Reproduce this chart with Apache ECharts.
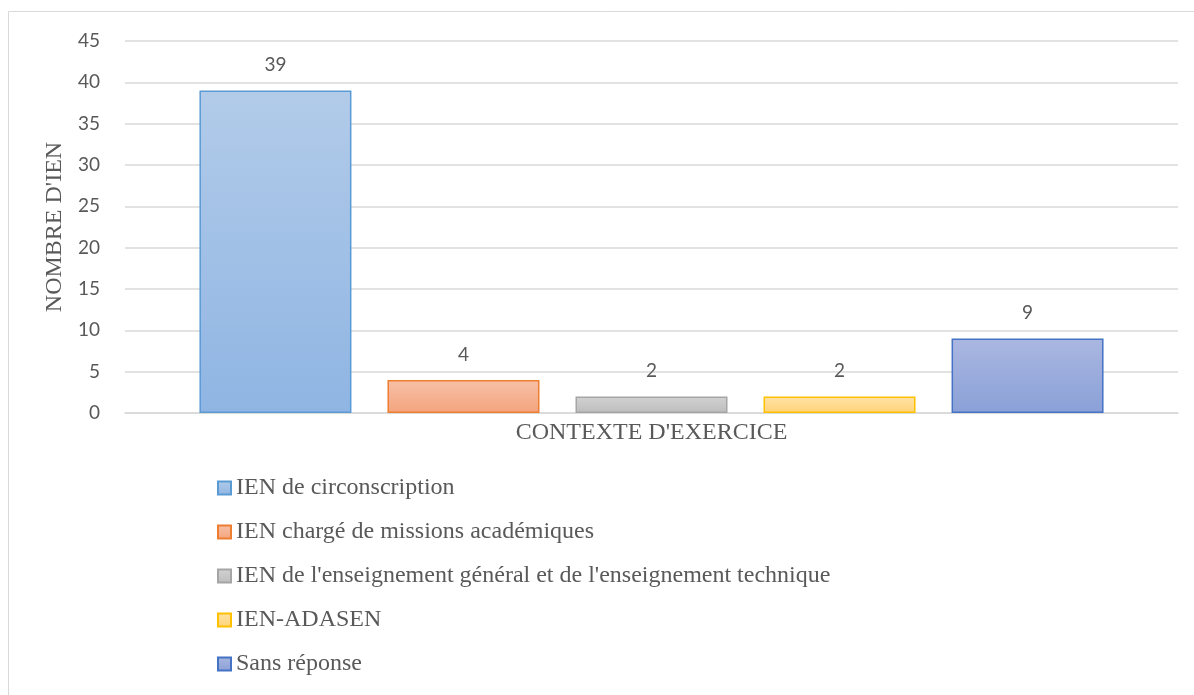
<!DOCTYPE html>
<html>
<head>
<meta charset="utf-8">
<script src="https://cdn.jsdelivr.net/npm/echarts@6/dist/echarts.min.js"></script>
<style>html,body{margin:0;padding:0;background:#fff;}#c{width:1194px;height:695px;}</style>
</head>
<body>
<div id="c"></div>
<script>
var categories = ["CONTEXTE D'EXERCICE"];
var seriesNames = ["IEN de circonscription", "IEN chargé de missions académiques", "IEN de l'enseignement général et de l'enseignement technique", "IEN-ADASEN", "Sans réponse"];
var seriesValues = [[39], [4], [2], [2], [9]];
var yTicks = [0, 5, 10, 15, 20, 25, 30, 35, 40, 45];

var topColors = ['#b2cbe9', '#f7c0a7', '#d2d2d2', '#ffe2a6', '#aab7e1'];
var bottomColors = ['#8fb5e3', '#f4a47d', '#bdbdbd', '#ffd478', '#8aa0d7'];
var borderColors = ['#5b9bd5', '#ed7d31', '#a5a5a5', '#ffc000', '#4472c4'];

var chart = echarts.init(document.getElementById('c'));
var series = seriesNames.map(function (n, i) {
  return {
    name: n,
    type: 'bar',
    data: seriesValues[i],
    barWidth: 152,
    barGap: '23.7%',
    itemStyle: {
      color: new echarts.graphic.LinearGradient(0, 0, 0, 1, [
        {offset: 0, color: topColors[i]},
        {offset: 1, color: bottomColors[i]}
      ]),
      borderColor: borderColors[i],
      borderWidth: 1.5
    },
    label: {
      show: true,
      position: 'top',
      distance: 16,
      color: '#595959',
      fontFamily: 'Lato',
      fontSize: 19
    }
  };
});

chart.setOption({
  animation: false,
  graphic: [{
    type: 'rect',
    shape: {x: 8.5, y: 11.5, width: 1200, height: 700},
    style: {fill: 'none', stroke: '#d9d9d9', lineWidth: 1}
  }],
  grid: {left: 125, right: 16, top: 41, bottom: 282, containLabel: false},
  legend: {
    orient: 'vertical',
    left: 212,
    top: 471,
    itemWidth: 13,
    itemHeight: 13,
    itemGap: 20,
    icon: 'rect',
    data: seriesNames,
    textStyle: {fontFamily: 'Liberation Serif', fontSize: 24, lineHeight: 24, color: '#595959'}
  },
  xAxis: {
    type: 'category',
    data: categories,
    name: categories[0],
    nameLocation: 'middle',
    nameGap: 8,
    nameTextStyle: {fontFamily: 'Liberation Serif', fontSize: 24, color: '#595959'},
    axisLine: {show: true, lineStyle: {color: '#d9d9d9', width: 1.5}},
    axisTick: {show: false},
    axisLabel: {show: false}
  },
  yAxis: {
    type: 'value',
    min: yTicks[0],
    max: yTicks[yTicks.length - 1],
    interval: 5,
    name: "NOMBRE D'IEN",
    nameLocation: 'middle',
    nameGap: 56,
    nameTextStyle: {fontFamily: 'Liberation Serif', fontSize: 24, color: '#595959'},
    axisLine: {show: false},
    axisTick: {show: false},
    axisLabel: {fontFamily: 'Lato', fontSize: 19, color: '#595959', margin: 25},
    splitLine: {lineStyle: {color: '#d9d9d9', width: 1.5}}
  },
  series: series
});
</script>
</body>
</html>
